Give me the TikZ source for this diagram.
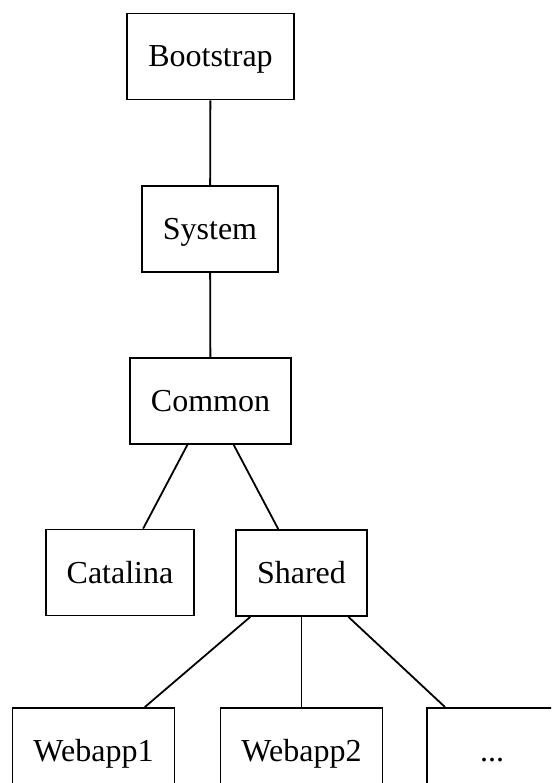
\documentclass[tikz,border=0pt]{standalone}
\usepackage{fontspec}
\setmainfont{Liberation Serif}
\usetikzlibrary{positioning}

\begin{document}
\begin{tikzpicture}[x=1pt, y=-1pt,
        caja/.style={rectangle, draw, line width=1.8pt, minimum width=130pt, minimum height=86pt, inner xsep=21pt, text height=25pt, text depth=4pt, font=\fontsize{32}{38}\selectfont},
        linea/.style={line width=1.8pt}
    ]
        % --- Marco de la imagen ---
        \clip (0,0) rectangle (551,783);

        % --- Nodos del arbol ---
        \node[caja] (bootstrap) at (210.5, 56.5) {Bootstrap};
        \node[caja] (system) at (210, 229) {System};
        \node[caja] (common) at (210.5, 401) {Common};
        \node[caja] (catalina) at (120, 572.5) {Catalina};
        \node[caja] (shared) at (301.5, 573) {Shared};
        \node[caja] (webapp1) at (93.5, 751) {Webapp1};
        \node[caja] (webapp2) at (301.5, 751) {Webapp2};
        \node[caja] (otros) at (492, 751) {...};

        % ================= LINEAS =================
        \draw[linea] (bootstrap) -- (system);
        \draw[linea] (system) -- (common);
        \draw[linea] (common) -- (catalina);
        \draw[linea] (common) -- (shared);
        \draw[linea] (shared) -- (webapp1);
        \draw[linea] (shared) -- (webapp2);
        \draw[linea] (shared) -- (otros);

    \end{tikzpicture}
\end{document}
